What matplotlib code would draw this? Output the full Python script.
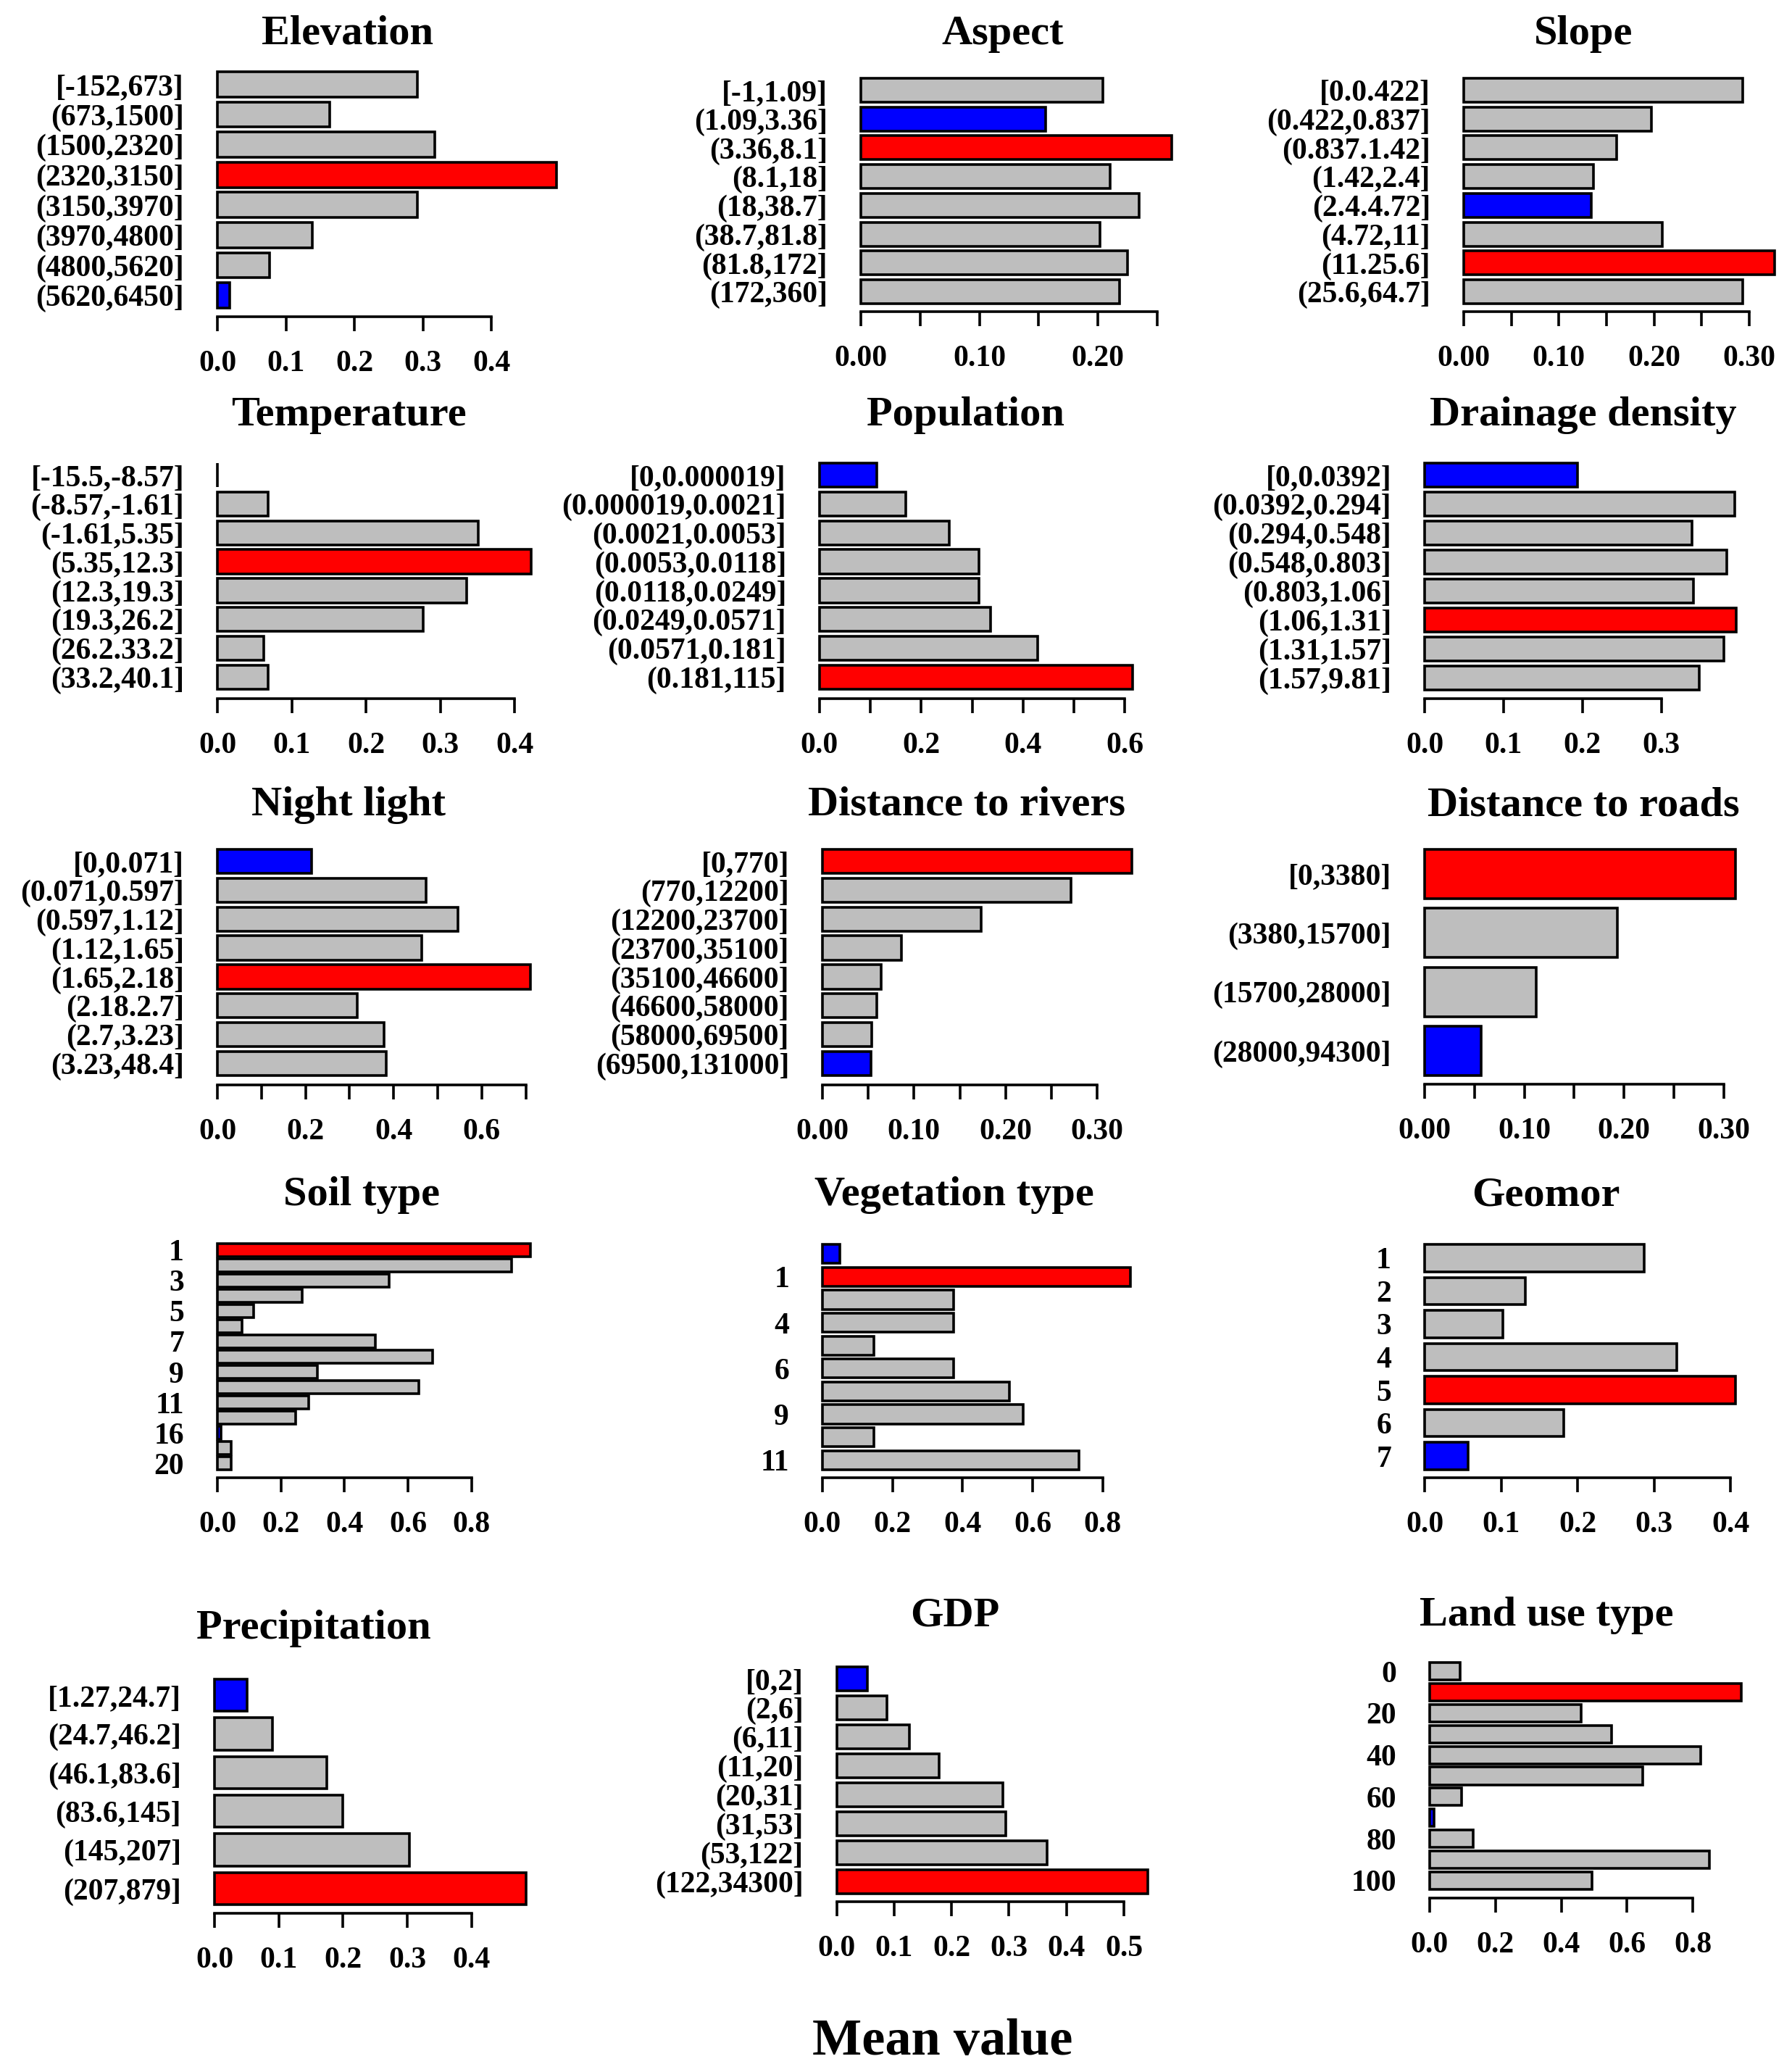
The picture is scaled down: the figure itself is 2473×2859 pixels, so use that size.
import matplotlib
matplotlib.use("Agg")
import matplotlib.pyplot as plt
import numpy as np

plt.rcParams["font.family"] = ["Liberation Serif", "DejaVu Serif"]
plt.rcParams["font.weight"] = "bold"

# ---- data ----
elev_labels = ["[-152,673]", "(673,1500]", "(1500,2320]", "(2320,3150]",
               "(3150,3970]", "(3970,4800]", "(4800,5620]", "(5620,6450]"]
elev_values = [0.292, 0.164, 0.317, 0.495, 0.292, 0.139, 0.076, 0.018]

aspect_labels = ["[-1,1.09]", "(1.09,3.36]", "(3.36,8.1]", "(8.1,18]",
                 "(18,38.7]", "(38.7,81.8]", "(81.8,172]", "(172,360]"]
aspect_values = [0.204, 0.156, 0.262, 0.210, 0.235, 0.202, 0.225, 0.218]

slope_labels = ["[0.0.422]", "(0.422,0.837]", "(0.837.1.42]", "(1.42,2.4]",
                "(2.4.4.72]", "(4.72,11]", "(11.25.6]", "(25.6,64.7]"]
slope_values = [0.293, 0.197, 0.161, 0.136, 0.134, 0.209, 0.327, 0.293]

temp_labels = ["[-15.5,-8.57]", "(-8.57,-1.61]", "(-1.61,5.35]", "(5.35,12.3]",
               "(12.3,19.3]", "(19.3,26.2]", "(26.2.33.2]", "(33.2,40.1]"]
temp_values = [0.0, 0.068, 0.351, 0.422, 0.336, 0.277, 0.062, 0.068]

pop_labels = ["[0,0.000019]", "(0.000019,0.0021]", "(0.0021,0.0053]", "(0.0053,0.0118]",
              "(0.0118,0.0249]", "(0.0249,0.0571]", "(0.0571,0.181]", "(0.181,115]"]
pop_values = [0.113, 0.170, 0.255, 0.313, 0.313, 0.336, 0.429, 0.616]

drain_labels = ["[0,0.0392]", "(0.0392,0.294]", "(0.294,0.548]", "(0.548,0.803]",
                "(0.803,1.06]", "(1.06,1.31]", "(1.31,1.57]", "(1.57,9.81]"]
drain_values = [0.194, 0.393, 0.339, 0.383, 0.341, 0.395, 0.379, 0.348]

night_labels = ["[0,0.071]", "(0.071,0.597]", "(0.597,1.12]", "(1.12,1.65]",
                "(1.65,2.18]", "(2.18.2.7]", "(2.7,3.23]", "(3.23,48.4]"]
night_values = [0.214, 0.473, 0.546, 0.463, 0.711, 0.317, 0.379, 0.384]

river_labels = ["[0,770]", "(770,12200]", "(12200,23700]", "(23700,35100]",
                "(35100,46600]", "(46600,58000]", "(58000,69500]", "(69500,131000]"]
river_values = [0.338, 0.271, 0.173, 0.086, 0.064, 0.059, 0.054, 0.053]

road_labels = ["[0,3380]", "(3380,15700]", "(15700,28000]", "(28000,94300]"]
road_values = [0.312, 0.193, 0.112, 0.057]

soil_labels = ["1", "", "3", "", "5", "", "7", "", "9", "", "11", "", "16", "", "20"]
soil_values = [0.985, 0.927, 0.540, 0.266, 0.115, 0.078, 0.497, 0.677,
               0.315, 0.635, 0.287, 0.246, 0.011, 0.044, 0.044]

veg_labels = ["", "1", "", "4", "", "6", "", "9", "", "11"]
veg_values = [0.049, 0.880, 0.374, 0.374, 0.146, 0.374, 0.533, 0.572, 0.146, 0.733]

geo_labels = ["1", "2", "3", "4", "5", "6", "7"]
geo_values = [0.287, 0.132, 0.102, 0.330, 0.406, 0.182, 0.057]

precip_labels = ["[1.27,24.7]", "(24.7,46.2]", "(46.1,83.6]", "(83.6,145]",
                 "(145,207]", "(207,879]"]
precip_values = [0.051, 0.090, 0.175, 0.200, 0.303, 0.485]

gdp_labels = ["[0,2]", "(2,6]", "(6,11]", "(11,20]", "(20,31]", "(31,53]",
              "(53,122]", "(122,34300]"]
gdp_values = [0.053, 0.088, 0.127, 0.179, 0.290, 0.294, 0.366, 0.541]

land_labels = ["0", "", "20", "", "40", "", "60", "", "80", "", "100"]
land_values = [0.093, 0.948, 0.461, 0.552, 0.823, 0.648, 0.098, 0.014, 0.133, 0.851, 0.494]

W, H = 2473, 2859
DPI = 100
PT = 72.0 / DPI


def draw_panel(fig, title, labels, values, x0, ppu, y_top, y_bot, axis_y,
               title_x, title_y, axis_end, step, every, fmt):
    values = np.array(values)
    n = len(values)
    h = 1 / 1.2
    xmax = max(values.max(), axis_end) * 1.03
    rect = [x0 / W, 1 - y_bot / H, xmax * ppu / W, (y_bot - y_top) / H]
    ax = fig.add_axes(rect)

    colors = ["#BEBEBE"] * n
    colors[int(np.argmax(values))] = "#FF0000"
    colors[int(np.argmin(values))] = "#0000FF"
    ax.barh(np.arange(n), values, height=h, color=colors,
            edgecolor="black", linewidth=2.6, clip_on=False)

    ax.set_xlim(0, xmax)
    ax.set_ylim(n - 1 + h / 2, -h / 2)

    for s in ["left", "top", "right"]:
        ax.spines[s].set_visible(False)
    ax.spines["bottom"].set_position(("outward", (axis_y - y_bot) * PT))
    ax.spines["bottom"].set_bounds(0, axis_end)
    ax.spines["bottom"].set_linewidth(2.6)

    ticks = np.arange(0, axis_end + step / 2, step)
    ax.set_xticks(ticks)
    ax.set_xticklabels([fmt % t if i % every == 0 else "" for i, t in enumerate(ticks)])
    ax.tick_params(axis="x", direction="out", length=20 * PT, width=2.6,
                   pad=26 * PT, labelsize=30)

    ax.set_yticks(np.arange(n))
    ax.set_yticklabels(labels)
    ax.tick_params(axis="y", length=0, pad=46 * PT, labelsize=30)
    for lab in ax.get_xticklabels() + ax.get_yticklabels():
        lab.set_fontweight("bold")

    fig.text(title_x / W, 1 - title_y / H, title, ha="center", va="baseline",
             fontsize=42, fontweight="bold")
    return ax


fig = plt.figure(figsize=(W / DPI, H / DPI), dpi=DPI)

# row 1
draw_panel(fig, "Elevation", elev_labels, elev_values, 300, 945, 99, 425, 437,
           480, 61, 0.4, 0.1, 1, "%.1f")
draw_panel(fig, "Aspect", aspect_labels, aspect_values, 1188, 1636, 108, 419, 430,
           1384, 61, 0.25, 0.05, 2, "%.2f")
draw_panel(fig, "Slope", slope_labels, slope_values, 2020, 1313, 108, 419, 430,
           2185, 61, 0.30, 0.05, 2, "%.2f")

# row 2
draw_panel(fig, "Temperature", temp_labels, temp_values, 300, 1025, 639, 951, 964,
           481, 587, 0.4, 0.1, 1, "%.1f")
draw_panel(fig, "Population", pop_labels, pop_values, 1131, 702, 639, 951, 964,
           1332, 587, 0.6, 0.1, 2, "%.1f")
draw_panel(fig, "Drainage density", drain_labels, drain_values, 1966, 1089, 639, 952, 964,
           2185, 587, 0.3, 0.1, 1, "%.1f")

# row 3
draw_panel(fig, "Night light", night_labels, night_values, 300, 608, 1172, 1484, 1497,
           481, 1125, 0.7, 0.1, 2, "%.1f")
draw_panel(fig, "Distance to rivers", river_labels, river_values, 1135, 1264, 1172, 1484, 1497,
           1334, 1125, 0.30, 0.05, 2, "%.2f")
draw_panel(fig, "Distance to roads", road_labels, road_values, 1966, 1376, 1172, 1484, 1496,
           2185, 1125, 0.30, 0.05, 2, "%.2f")

# row 4
draw_panel(fig, "Soil type", soil_labels, soil_values, 300, 438.5, 1716, 2028, 2039,
           499, 1663, 0.8, 0.2, 1, "%.1f")
draw_panel(fig, "Vegetation type", veg_labels, veg_values, 1135, 483.5, 1717, 2028, 2039,
           1317, 1663, 0.8, 0.2, 1, "%.1f")
draw_panel(fig, "Geomor", geo_labels, geo_values, 1966, 1056, 1717, 2028, 2039,
           2133, 1663, 0.4, 0.1, 1, "%.1f")

# row 5
draw_panel(fig, "Precipitation", precip_labels, precip_values, 296, 887, 2317, 2628, 2640,
           433, 2261, 0.4, 0.1, 1, "%.1f")
draw_panel(fig, "GDP", gdp_labels, gdp_values, 1154.5, 793, 2300, 2613, 2624,
           1318, 2243, 0.5, 0.1, 1, "%.1f")
draw_panel(fig, "Land use type", land_labels, land_values, 1973, 454, 2294, 2607, 2619,
           2134, 2243, 0.8, 0.2, 1, "%.1f")

fig.text(1301 / W, 1 - 2835 / H, "Mean value", ha="center", va="baseline",
         fontsize=52, fontweight="bold")

fig.savefig("out.png", dpi=DPI)
